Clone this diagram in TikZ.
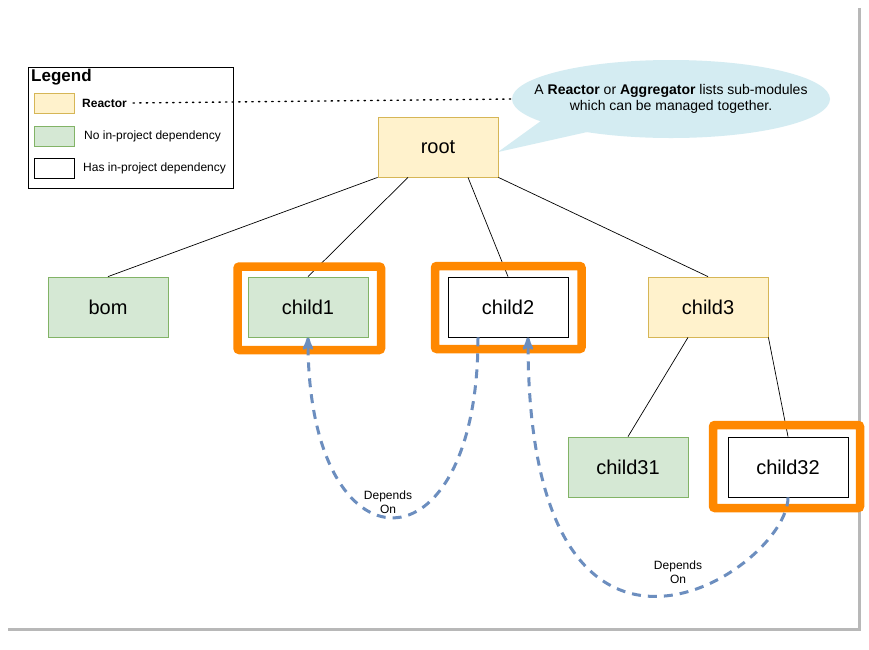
\documentclass[tikz,border=0pt]{standalone}
\usepackage{fontspec}
\setmainfont{Liberation Sans}
\usepackage{xcolor}
\usetikzlibrary{arrows}
\usetikzlibrary{shapes.geometric}

\definecolor{reactorfill}{HTML}{FFF2CC}
\definecolor{reactordraw}{HTML}{D6B656}
\definecolor{leaffill}{HTML}{D5E8D4}
\definecolor{leafdraw}{HTML}{82B366}
\definecolor{dependblue}{HTML}{6C8EBF}
\definecolor{markorange}{HTML}{FF8800}
\definecolor{calloutblue}{HTML}{D4ECF2}

\begin{document}
\begin{tikzpicture}[x=1pt,y=-1pt,>=stealth',
    module/.style={rectangle,draw,line width=0.8pt,minimum width=120pt,minimum height=60pt,
                   inner sep=0pt,font=\fontsize{20}{24}\selectfont},
    reactor node/.style={module,fill=reactorfill,draw=reactordraw},
    leaf node/.style={module,fill=leaffill,draw=leafdraw},
    dep node/.style={module,fill=white,draw=black},
    swatch/.style={rectangle,line width=0.8pt,minimum width=40pt,minimum height=20pt,inner sep=0pt},
    legend text/.style={anchor=west,inner sep=0pt,font=\fontsize{12}{14}\selectfont},
    tree edge/.style={draw=black,line width=0.7pt},
    highlight/.style={draw=markorange,line width=8.5pt,rounded corners=2pt},
    depends/.style={->,draw=dependblue,line width=3pt,dash pattern=on 9pt off 7pt},
    depends label/.style={align=center,inner sep=0pt,font=\fontsize{12}{14.5}\selectfont}]

  \useasboundingbox (0,0) rectangle (869,649);

  % page with its shadow
  \fill[black!28] (8,8) rectangle (861,631);
  \fill[white] (4,4) rectangle (858,628);

  % legend
  \draw[line width=0.8pt] (28,67) rectangle (233,188);
  \node[anchor=west,inner sep=0pt,font=\fontsize{17}{20}\selectfont\bfseries] (legtitle) at (31,77) {Legend};
  \node[swatch,fill=reactorfill,draw=reactordraw] (swreactor) at (54,103) {};
  \node[swatch,fill=leaffill,draw=leafdraw] (swleaf) at (54,136) {};
  \node[swatch,fill=white,draw=black] (swdep) at (54,168) {};
  \node[legend text] (legreactor) at (82,103) {\textbf{Reactor}};
  \node[legend text] (legleaf) at (84,136) {No in-project dependency};
  \node[legend text] (legdep) at (83,168) {Has in-project dependency};

  % callout
  \fill[calloutblue] (545,118) -- (498,152) -- (605,128) -- cycle;
  \node[ellipse,fill=calloutblue,minimum width=318pt,minimum height=78pt,inner sep=0pt] (callout) at (671,99) {};
  \node[align=center,inner sep=0pt,font=\fontsize{14}{16}\selectfont] (callouttext) at (callout)
        {A \textbf{Reactor} or \textbf{Aggregator} lists sub-modules\\which can be managed together.};
  \draw[line width=1.4pt,dash pattern=on 1.4pt off 5.2pt,line cap=round]
    ([xshift=6pt]legreactor.east) -- (callout.west);

  % modules
  \node[reactor node] (root) at (438,147) {root};
  \node[leaf node] (bom) at (108,307) {bom};
  \node[leaf node] (child1) at (308,307) {child1};
  \node[dep node] (child2) at (508,307) {child2};
  \node[reactor node] (child3) at (708,307) {child3};
  \node[leaf node] (child31) at (628,467) {child31};
  \node[dep node] (child32) at (788,467) {child32};

  \path[tree edge]
    (root.south west) edge (bom.north)
    ([xshift=-30pt]root.south) edge (child1.north)
    ([xshift=30pt]root.south) edge (child2.north)
    (root.south east) edge (child3.north)
    ([xshift=-20pt]child3.south) edge (child31.north)
    (child3.south east) edge (child32.north);

  % modules with in-project dependencies
  \draw[highlight] (237.5,266.5) rectangle (381,350);
  \draw[highlight] (435,266) rectangle (581.5,349);
  \draw[highlight] (713,425) rectangle (860,508);

  \draw[depends] ([xshift=-30pt]child2.south) .. controls +(0,240) and +(0,240) .. (child1.south);
  \draw[depends] (child32.south) .. controls +(0,73) and +(0,403) .. ([xshift=20pt]child2.south);

  \node[depends label] (dep1) at (388,502) {Depends\\On};
  \node[depends label] (dep2) at (678,572) {Depends\\On};
\end{tikzpicture}
\end{document}
